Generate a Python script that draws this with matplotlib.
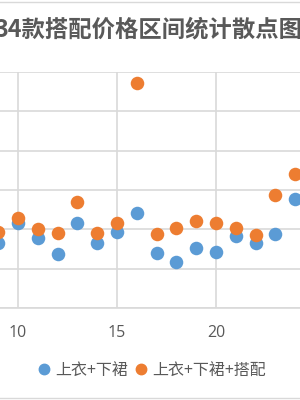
import matplotlib.pyplot as plt
from matplotlib.lines import Line2D

plt.rcParams['font.family'] = ['Noto Sans CJK SC', 'DejaVu Sans']

# data (y units = gridline steps)
x = [9, 10, 11, 12, 13, 14, 15, 16, 17, 18, 19, 20, 21, 22, 23, 24]
y_base = [1.65, 2.16, 1.78, 1.37, 2.16, 1.65, 1.93, 2.42, 1.40, 1.17,
          1.53, 1.42, 1.83, 1.65, 1.88, 2.77]
y_match = [1.93, 2.29, 2.01, 1.91, 2.70, 1.91, 2.16, 5.73, 1.88, 2.04,
           2.21, 2.16, 2.04, 1.86, 2.88, 3.41]
labels = ['上衣+下裙', '上衣+下裙+搭配']
title = '34款搭配价格区间统计散点图'

blue = '#5B9BD5'
orange = '#ED7D31'
grid = '#D9D9D9'
txt = '#595959'

fig = plt.figure(figsize=(3, 4), dpi=100)
ax = fig.add_axes([0, 0.23, 1, 0.59])

ax.scatter(x, y_base, s=95, color=blue, zorder=3, linewidths=0)
ax.scatter(x, y_match, s=95, color=orange, zorder=4, linewidths=0)

ax.set_xlim(9.09, 24.24)
ax.set_ylim(0, 6)
ax.set_xticks([10, 15, 20])
ax.set_yticks([0, 1, 2, 3, 4, 5, 6])
ax.set_yticklabels([])
ax.grid(True, color=grid, lw=1.2, zorder=0)
for s in ['top', 'right', 'left']:
    ax.spines[s].set_visible(False)
ax.spines['bottom'].set_color(grid)
ax.spines['bottom'].set_linewidth(1.2)
ax.tick_params(axis='both', length=0, colors=txt, labelsize=11.5, pad=12)
ax.tick_params(axis='y', left=False)
for t in ax.get_xticklabels():
    t.set_family(['Open Sans', 'DejaVu Sans'])

fig.text(-0.018, 0.926, title, ha='left', va='center', fontsize=16.8,
         color=txt, fontweight='bold')

handles = [Line2D([], [], ls='', marker='o', ms=7.5, color=blue),
           Line2D([], [], ls='', marker='o', ms=7.5, color=orange)]
fig.legend(handles, labels, loc='center', bbox_to_anchor=(0.505, 0.074),
           ncol=2, frameon=False, fontsize=11.5, labelcolor=txt,
           handletextpad=0.3, columnspacing=0.4, handlelength=0.8)

# chart border lines
fig.add_artist(Line2D([0, 1], [0.995, 0.995], color=grid, lw=1))
fig.add_artist(Line2D([0, 1], [0.005, 0.005], color=grid, lw=1))

fig.savefig('out.png', dpi=100)
